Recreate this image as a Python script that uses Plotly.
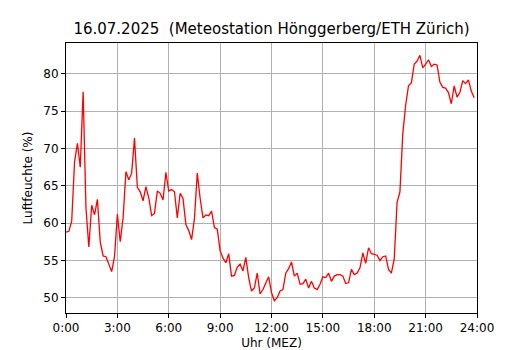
import plotly.graph_objects as go

# 10-minute relative humidity values (%), 0:00 .. 23:50
humidity = [
    58.8, 58.9, 60.3, 68.2, 70.7, 67.5, 77.6, 62.0, 56.8, 62.4, 61.1, 63.2,
    57.5, 55.6, 55.5, 54.6, 53.5, 55.5, 61.2, 57.5, 60.7, 66.9, 65.8, 66.7,
    71.4, 64.8, 64.2, 63.0, 64.9, 63.4, 61.0, 61.3, 64.3, 64.0, 63.1, 66.8,
    64.3, 64.5, 64.2, 60.7, 64.0, 63.3, 59.8, 59.0, 57.8, 60.6, 66.7, 63.3,
    60.7, 61.1, 61.0, 61.6, 59.4, 59.2, 56.3, 55.3, 54.7, 55.9, 52.9, 53.0,
    54.1, 54.5, 53.6, 55.4, 52.7, 50.9, 51.3, 53.3, 50.5, 51.1, 52.0, 52.8,
    50.7, 49.6, 50.0, 50.9, 51.1, 53.3, 53.9, 54.8, 52.9, 53.3, 51.8, 51.9,
    52.5, 51.3, 52.2, 51.3, 51.1, 51.8, 52.8, 52.7, 53.3, 52.2, 52.9, 53.1,
    53.1, 52.9, 51.9, 52.0, 53.8, 53.1, 53.3, 54.0, 56.0, 54.6, 56.7, 55.9,
    55.8, 55.7, 55.0, 55.5, 55.6, 53.8, 53.3, 55.2, 62.8, 64.2, 72.0, 75.8,
    78.4, 78.8, 81.3, 81.7, 82.5, 80.8, 81.3, 81.9, 81.0, 81.3, 81.2, 78.9,
    78.2, 78.1, 77.5, 76.0, 78.4, 76.9, 77.5, 79.1, 78.7, 79.2, 77.7, 76.8,
]
hours = [i / 6 for i in range(len(humidity))]

x_tick_vals = [0, 3, 6, 9, 12, 15, 18, 21, 24]
x_tick_text = ["0:00", "3:00", "6:00", "9:00", "12:00", "15:00", "18:00", "21:00", "24:00"]
y_tick_vals = [50, 55, 60, 65, 70, 75, 80]

title_text = "16.07.2025  (Meteostation Hönggerberg/ETH Zürich)"
x_label = "Uhr (MEZ)"
y_label = "Luftfeuchte (%)"

ymin, ymax = min(humidity), max(humidity)
pad = 0.05 * (ymax - ymin)

fig = go.Figure()
fig.add_trace(go.Scatter(
    x=hours, y=humidity, mode="lines",
    line=dict(color="#ff0000", width=1.3),
    showlegend=False, hoverinfo="x+y",
))

# the page body adds an 8px offset; size the figure so it fits the window
W, H = 522, 342
font_family = "DejaVu Sans"
fig.update_layout(
    width=W, height=H,
    paper_bgcolor="white", plot_bgcolor="white",
    margin=dict(l=58, r=53, t=35, b=37, autoexpand=False),
    font=dict(family=font_family, color="black", size=12),
    title=dict(text=title_text, x=263.5 / W, xanchor="center",
               y=1 - 21 / H, yref="container", yanchor="middle",
               font=dict(size=15, family=font_family, color="black")),
)
fig.update_xaxes(
    range=[0, 24], tickvals=x_tick_vals, ticktext=x_tick_text,
    showline=True, mirror=True, linecolor="black", linewidth=1,
    ticks="outside", ticklen=4, tickcolor="black", tickwidth=1,
    showgrid=True, gridcolor="#b0b0b0", gridwidth=1, zeroline=False,
    tickfont=dict(size=12), automargin=False,
    title=dict(text=x_label, font=dict(size=12), standoff=6),
)
fig.update_yaxes(
    range=[ymin - pad, ymax + pad], tickvals=y_tick_vals,
    showline=True, mirror=True, linecolor="black", linewidth=1,
    ticks="outside", ticklen=4, tickcolor="black", tickwidth=1,
    showgrid=True, gridcolor="#b0b0b0", gridwidth=1, zeroline=False,
    tickfont=dict(size=12), automargin=False,
    title=dict(text=y_label, font=dict(size=12), standoff=8),
)

fig.write_html("out.html")
